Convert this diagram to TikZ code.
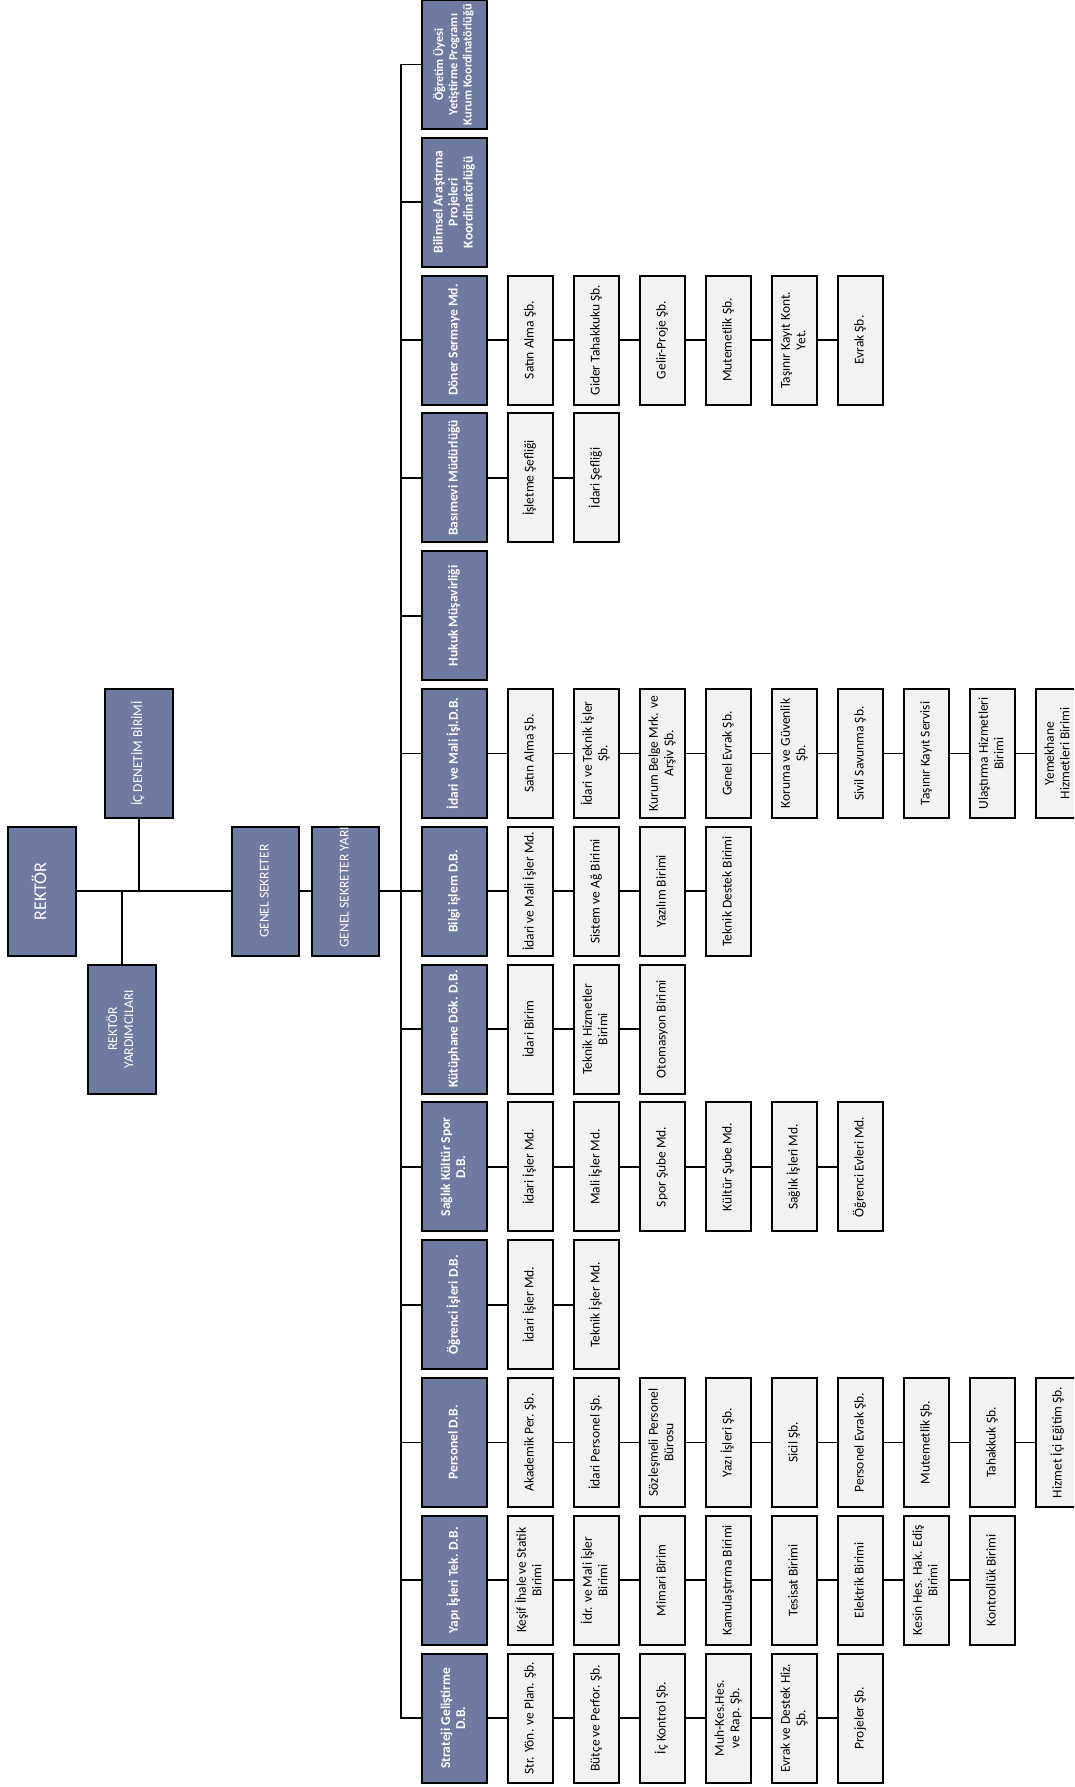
\documentclass[tikz,border=0pt]{standalone}
\usepackage{fontspec}
\setmainfont{Carlito}
\definecolor{dk}{RGB}{111,122,160}
\definecolor{lt}{RGB}{242,242,242}
\newcommand\rt[1]{\rotatebox{90}{\begin{tabular}{@{}c@{}}#1\end{tabular}}}
\tikzset{
  orgbox/.style={draw=black, line width=2pt, inner sep=0pt, minimum height=129pt},
  lone/.style={orgbox, fill=dk, text=white, minimum width=65pt, font=\fontsize{13.5}{15}\selectfont\bfseries},
  ltwo/.style={orgbox, fill=lt, text=black, minimum width=45pt, font=\fontsize{13.5}{15.5}\selectfont},
  headbox/.style={orgbox, fill=dk, text=white, minimum width=68pt, font=\fontsize{13.5}{16}\selectfont},
  conn/.style={line width=1.8pt, draw=black},
}
% #1 row name, #2 y, #3 level-1 text, #4 list of children
\newcommand\orgrow[4]{%
  \node[lone] (#1-0) at (454.5,#2) {\rt{#3}};
  \foreach [count=\k, remember=\k as \pk (initially 0)] \txt in {#4} {
    \node[ltwo] (#1-\k) at ({530.5+66*(\k-1)},#2) {\rt{\txt}};
    \draw[conn] (#1-\pk.east) -- (#1-\k.west);
  }
}
\begin{document}
\begin{tikzpicture}[x=1pt,y=-1pt]
\useasboundingbox (0,0) rectangle (1074,1787);
\clip (0,0) rectangle (1074,1787);

% top management
\node[headbox, minimum width=68pt, font=\fontsize{18}{20}\selectfont] (rek) at (42,891.3) {\rt{REKTÖR}};
\node[headbox, minimum width=67pt] (gs) at (265.5,891.3) {\rt{GENEL SEKRETER}};
\node[headbox, minimum width=67pt] (gsy) at (345.5,891.3) {\rt{\hspace*{8pt}GENEL SEKRETER YARI}};
\node[headbox] (icd) at (139,753.5) {\rt{İÇ DENETİM BİRİMİ}};
\node[headbox] (ry) at (122,1029.1) {\rt{REKTÖR\\YARDIMCILARI}};

% rows
\node[lone, font=\fontsize{12.4}{14.2}\selectfont\bfseries] (r0-0) at (454.5,64.5) {\rt{Öğretim Üyesi\\Yetiştirme Programı\\Kurum Koordinatörlüğü}};
\node[lone] (r1-0) at (454.5,202.3) {\rt{Bilimsel Araştırma\\Projeleri\\Koordinatörlüğü}};
\orgrow{r2}{340.1}{Döner Sermaye Md.}{{Satın Alma Şb.},{Gider Tahakkuku Şb.},{Gelir-Proje Şb.},{Mutemetlik Şb.},{Taşınır Kayıt Kont.\\Yet.},{Evrak Şb.}}
\orgrow{r3}{477.9}{Basımevi Müdürlüğü}{{İşletme Şefliği},{İdari Şefliği}}
\node[lone] (r4-0) at (454.5,615.7) {\rt{Hukuk Müşavirliği}};
\orgrow{r5}{753.5}{İdari ve Mali İşl.D.B.}{{Satın Alma Şb.},{İdari ve Teknik İşler\\Şb.},{Kurum Belge Mrk. ve\\Arşiv Şb.},{Genel Evrak Şb.},{Koruma ve Güvenlik\\Şb.},{Sivil Savunma Şb.},{Taşınır Kayıt Servisi},{Ulaştırma Hizmetleri\\Birimi},{Yemekhane\\Hizmetleri Birimi}}
\orgrow{r6}{891.3}{Bilgi işlem D.B.}{{İdari ve Mali İşler Md.},{Sistem ve Ağ Birimi},{Yazılım Birimi},{Teknik Destek Birimi}}
\orgrow{r7}{1029.1}{Kütüphane Dök. D.B.}{{İdari Birim},{Teknik Hizmetler\\Birimi},{Otomasyon Birimi}}
\orgrow{r8}{1166.9}{Sağlık Kültür Spor\\D.B.}{{İdari İşler Md.},{Mali İşler Md.},{Spor Şube Md.},{Kültür Şube Md.},{Sağlık İşleri Md.},{Öğrenci Evleri Md.}}
\orgrow{r9}{1304.7}{Öğrenci İşleri D.B.}{{İdari İşler Md.},{Teknik İşler Md.}}
\orgrow{r10}{1442.5}{Personel D.B.}{{Akademik Per. Şb.},{İdari Personel Şb.},{Sözleşmeli Personel\\Bürosu},{Yazı İşleri Şb.},{Sicil Şb.},{Personel Evrak Şb.},{Mutemetlik Şb.},{Tahakkuk Şb.},{Hizmet İçi Eğitim Şb.}}
\orgrow{r11}{1580.3}{Yapı İşleri Tek. D.B.}{{Keşif İhale ve Statik\\Birimi},{İdr. ve Mali İşler\\Birimi},{Mimari Birim},{Kamulaştırma Birimi},{Tesisat Birimi},{Elektrik Birimi},{Kesin Hes. Hak. Ediş\\Birimi},{Kontrollük Birimi}}
\orgrow{r12}{1718.1}{Strateji Geliştirme\\D.B.}{{Str. Yön. ve Plan. Şb.},{Bütçe ve Perfor. Şb.},{İç Kontrol Şb.},{Muh-Kes.Hes.\\ve Rap. Şb.},{Evrak ve Destek Hiz.\\Şb.},{Projeler Şb.}}

% main bus
\coordinate (bt) at (401,64.5);
\coordinate (bb) at (401,1718.1);
\draw[conn] (r0-0.west) -- (bt) -- (bb) -- (r12-0.west);
\foreach \r in {r1,r2,r3,r4,r5,r6,r7,r8,r9,r10,r11}
  \draw[conn] (\r-0.west) -- (\r-0.west -| bt);

% top management connectors
\draw[conn] (rek.east) -- (gs.west);
\draw[conn] (gs.east) -- (gsy.west);
\draw[conn] (gsy.east) -- (gsy.east -| bt);
\draw[conn] (icd.south) -- (icd.south |- rek.east);
\draw[conn] (ry.north) -- (ry.north |- rek.east);
\end{tikzpicture}
\end{document}
